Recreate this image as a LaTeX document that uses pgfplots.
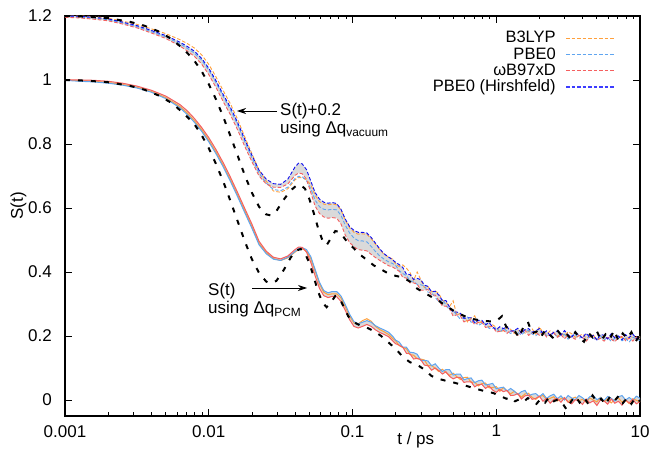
\documentclass[border=0pt]{standalone}
\usepackage{fontspec}
\setmainfont{Liberation Sans}
\usepackage{pgfplots}
\usepackage{pgfplotstable}
\pgfplotsset{compat=1.18}
\usepgfplotslibrary{fillbetween}
\usetikzlibrary{arrows.meta}

\definecolor{cOr}{RGB}{255,160,60}
\definecolor{cLb}{RGB}{95,165,240}
\definecolor{cRd}{RGB}{245,95,95}
\definecolor{cDb}{RGB}{10,10,240}
\definecolor{cDbL}{RGB}{60,60,255}
\definecolor{cBand}{RGB}{218,218,218}

% lower curves (S(t), PCM charges): L = log10(t/ps)
\pgfplotstableread{
L o b r
-3.00 1.000 0.999 1.000
-2.90 0.998 0.996 1.000
-2.80 0.996 0.994 0.999
-2.70 0.992 0.990 0.996
-2.60 0.986 0.984 0.990
-2.50 0.977 0.975 0.981
-2.40 0.964 0.962 0.968
-2.30 0.945 0.942 0.950
-2.20 0.917 0.913 0.923
-2.15 0.897 0.892 0.904
-2.10 0.873 0.868 0.880
-2.05 0.845 0.840 0.852
-2.00 0.812 0.807 0.820
-1.95 0.775 0.770 0.783
-1.90 0.734 0.729 0.742
-1.85 0.689 0.684 0.697
-1.80 0.641 0.636 0.649
-1.75 0.591 0.586 0.599
-1.70 0.542 0.537 0.550
-1.65 0.489 0.485 0.496
-1.60 0.460 0.457 0.465
-1.55 0.442 0.440 0.446
-1.50 0.436 0.436 0.441
-1.45 0.444 0.446 0.450
-1.40 0.462 0.464 0.470
-1.375 0.471 0.473 0.478
-1.35 0.473 0.476 0.477
-1.32 0.465 0.470 0.462
-1.29 0.442 0.448 0.430
-1.26 0.403 0.408 0.388
-1.23 0.363 0.368 0.349
-1.20 0.337 0.342 0.326
-1.17 0.329 0.335 0.320
-1.14 0.332 0.339 0.324
-1.11 0.332 0.339 0.323
-1.08 0.319 0.325 0.308
-1.05 0.291 0.298 0.280
-1.02 0.262 0.268 0.251
-0.99 0.241 0.245 0.230
-0.96 0.238 0.238 0.225
-0.93 0.248 0.243 0.230
-0.90 0.254 0.248 0.236
-0.87 0.246 0.243 0.230
-0.84 0.230 0.232 0.219
-0.81 0.220 0.225 0.211
-0.78 0.213 0.219 0.205
-0.75 0.205 0.212 0.198
-0.72 0.192 0.199 0.185
-0.700 0.185 0.187 0.176
-0.675 0.170 0.181 0.171
-0.650 0.164 0.165 0.165
-0.625 0.160 0.165 0.146
-0.600 0.142 0.149 0.144
-0.575 0.140 0.148 0.128
-0.550 0.129 0.143 0.130
-0.525 0.128 0.124 0.126
-0.500 0.125 0.124 0.109
-0.475 0.107 0.122 0.107
-0.450 0.108 0.107 0.093
-0.425 0.099 0.113 0.100
-0.400 0.089 0.100 0.092
-0.375 0.096 0.089 0.081
-0.350 0.086 0.095 0.088
-0.325 0.077 0.095 0.074
-0.300 0.084 0.078 0.066
-0.275 0.073 0.081 0.071
-0.250 0.064 0.081 0.070
-0.225 0.070 0.063 0.055
-0.200 0.071 0.067 0.057
-0.175 0.055 0.069 0.057
-0.150 0.056 0.054 0.041
-0.125 0.044 0.060 0.048
-0.100 0.051 0.062 0.049
-0.075 0.053 0.047 0.036
-0.050 0.038 0.049 0.044
-0.025 0.039 0.052 0.031
0.000 0.042 0.035 0.024
0.025 0.027 0.038 0.033
0.050 0.039 0.040 0.026
0.075 0.028 0.028 0.030
0.100 0.019 0.036 0.014
0.125 0.027 0.028 0.015
0.150 0.019 0.017 0.020
0.175 0.009 0.026 0.003
0.200 0.019 0.030 0.013
0.225 0.021 0.013 0.015
0.250 0.008 0.018 0.002
0.275 0.002 0.020 0.005
0.300 0.011 0.010 0.012
0.325 0.014 0.020 -0.004
0.350 0.002 0.005 0.005
0.375 0.005 0.013 -0.010
0.400 0.010 0.018 0.001
0.425 -0.003 0.004 0.005
0.450 0.004 0.013 -0.007
0.475 0.007 0.000 0.007
0.500 -0.007 0.014 -0.006
0.525 0.004 0.006 -0.012
0.550 0.009 0.001 0.001
0.575 -0.002 0.014 -0.003
0.600 0.002 0.007 -0.014
0.625 -0.007 -0.003 0.003
0.650 0.006 0.010 -0.009
0.675 0.000 0.014 -0.003
0.700 -0.006 0.001 -0.017
0.725 0.008 0.007 0.000
0.750 -0.005 -0.002 -0.003
0.775 0.003 0.011 -0.013
0.800 -0.009 0.005 0.003
0.825 0.001 -0.003 -0.010
0.850 0.006 0.010 -0.004
0.875 -0.007 0.014 -0.016
0.900 0.000 0.000 0.000
0.925 -0.011 0.008 -0.009
0.950 0.004 -0.001 0.002
0.975 -0.001 0.012 -0.012
1.000 -0.006 0.005 -0.005
}\lowtab

% upper curves (S(t)+0.2, vacuum charges)
\pgfplotstableread{
L h r b o
-3.00 1.200 1.196 1.198 1.200
-2.90 1.199 1.194 1.197 1.200
-2.80 1.196 1.190 1.194 1.198
-2.70 1.191 1.185 1.188 1.193
-2.60 1.181 1.175 1.178 1.184
-2.50 1.170 1.163 1.167 1.174
-2.40 1.155 1.147 1.151 1.160
-2.30 1.139 1.130 1.135 1.145
-2.20 1.118 1.106 1.113 1.126
-2.15 1.105 1.091 1.099 1.114
-2.10 1.090 1.074 1.084 1.100
-2.05 1.068 1.050 1.062 1.079
-2.00 1.037 1.017 1.031 1.049
-1.95 0.998 0.977 0.992 1.010
-1.90 0.955 0.933 0.949 0.967
-1.85 0.915 0.892 0.908 0.926
-1.80 0.868 0.845 0.861 0.878
-1.75 0.815 0.793 0.808 0.823
-1.70 0.765 0.745 0.757 0.770
-1.65 0.718 0.700 0.709 0.718
-1.60 0.690 0.675 0.678 0.684
-1.55 0.676 0.665 0.658 0.653
-1.50 0.674 0.664 0.654 0.649
-1.45 0.690 0.675 0.665 0.660
-1.40 0.728 0.702 0.692 0.688
-1.375 0.740 0.709 0.699 0.695
-1.35 0.738 0.707 0.698 0.695
-1.32 0.720 0.690 0.685 0.688
-1.29 0.684 0.648 0.660 0.672
-1.26 0.648 0.606 0.625 0.640
-1.23 0.628 0.583 0.604 0.620
-1.20 0.618 0.572 0.596 0.612
-1.17 0.615 0.568 0.594 0.610
-1.14 0.617 0.570 0.596 0.612
-1.11 0.614 0.568 0.594 0.610
-1.08 0.596 0.550 0.577 0.594
-1.05 0.565 0.515 0.546 0.562
-1.02 0.542 0.492 0.522 0.538
-0.99 0.530 0.479 0.506 0.524
-0.96 0.524 0.470 0.498 0.518
-0.93 0.524 0.468 0.497 0.519
-0.90 0.522 0.466 0.494 0.518
-0.87 0.508 0.455 0.480 0.504
-0.84 0.490 0.445 0.464 0.487
-0.81 0.472 0.436 0.450 0.470
-0.78 0.457 0.428 0.440 0.455
-0.75 0.447 0.420 0.432 0.447
-0.72 0.438 0.415 0.426 0.440
-0.700 0.430 0.410 0.421 0.424
-0.675 0.423 0.402 0.404 0.417
-0.650 0.414 0.383 0.395 0.422
-0.625 0.393 0.381 0.389 0.412
-0.600 0.392 0.366 0.372 0.398
-0.575 0.377 0.366 0.371 0.374
-0.550 0.380 0.362 0.361 0.400
-0.525 0.376 0.343 0.360 0.376
-0.500 0.359 0.343 0.357 0.351
-0.475 0.355 0.345 0.337 0.355
-0.450 0.338 0.327 0.335 0.338
-0.425 0.340 0.328 0.321 0.341
-0.400 0.328 0.311 0.307 0.333
-0.375 0.311 0.294 0.314 0.312
-0.350 0.311 0.293 0.297 0.306
-0.325 0.290 0.286 0.281 0.292
-0.300 0.275 0.262 0.281 0.310
-0.275 0.275 0.266 0.265 0.266
-0.250 0.271 0.263 0.253 0.270
-0.225 0.255 0.244 0.258 0.260
-0.200 0.257 0.248 0.259 0.244
-0.175 0.257 0.250 0.243 0.255
-0.150 0.242 0.236 0.245 0.263
-0.125 0.249 0.242 0.233 0.238
-0.100 0.249 0.243 0.239 0.246
-0.075 0.235 0.227 0.240 0.236
-0.050 0.242 0.228 0.224 0.228
-0.025 0.228 0.230 0.224 0.235
0.000 0.220 0.212 0.226 0.227
0.025 0.229 0.215 0.211 0.214
0.050 0.223 0.218 0.224 0.216
0.075 0.229 0.208 0.215 0.226
0.100 0.215 0.218 0.208 0.221
0.125 0.217 0.211 0.217 0.208
0.150 0.224 0.202 0.211 0.215
0.175 0.209 0.213 0.203 0.220
0.200 0.220 0.218 0.214 0.209
0.225 0.223 0.202 0.217 0.214
0.250 0.212 0.209 0.206 0.222
0.275 0.216 0.212 0.201 0.206
0.300 0.223 0.202 0.210 0.229
0.325 0.207 0.212 0.213 0.210
0.350 0.216 0.197 0.201 0.205
0.375 0.201 0.205 0.204 0.216
0.400 0.212 0.210 0.209 0.210
0.425 0.216 0.196 0.196 0.199
0.450 0.203 0.204 0.202 0.207
0.475 0.217 0.191 0.205 0.201
0.500 0.203 0.204 0.190 0.213
0.525 0.197 0.196 0.201 0.207
0.550 0.209 0.190 0.205 0.196
0.575 0.204 0.202 0.193 0.200
0.600 0.193 0.195 0.197 0.206
0.625 0.209 0.184 0.187 0.194
0.650 0.196 0.196 0.199 0.198
0.675 0.202 0.200 0.193 0.203
0.700 0.188 0.187 0.187 0.190
0.725 0.205 0.193 0.201 0.195
0.750 0.202 0.184 0.188 0.199
0.775 0.191 0.196 0.195 0.191
0.800 0.207 0.190 0.183 0.203
0.825 0.194 0.182 0.193 0.199
0.850 0.200 0.195 0.198 0.193
0.875 0.188 0.199 0.185 0.196
0.900 0.204 0.185 0.192 0.190
0.925 0.195 0.193 0.181 0.200
0.950 0.206 0.184 0.196 0.195
0.975 0.192 0.197 0.191 0.192
1.000 0.199 0.190 0.186 0.197
}\uptab

% experiment (black dashed): lower and shifted copy
\pgfplotstableread{
L lo up
-3.00 1.000 1.200
-2.85 0.998 1.198
-2.70 0.993 1.193
-2.55 0.982 1.182
-2.45 0.970 1.170
-2.35 0.952 1.152
-2.25 0.926 1.126
-2.15 0.885 1.085
-2.10 0.862 1.060
-2.05 0.828 1.028
-2.00 0.787 0.987
-1.95 0.738 0.940
-1.90 0.684 0.886
-1.85 0.623 0.826
-1.80 0.560 0.765
-1.75 0.497 0.703
-1.70 0.440 0.648
-1.65 0.397 0.604
-1.60 0.370 0.580
-1.57 0.365 0.577
-1.53 0.372 0.590
-1.48 0.405 0.625
-1.43 0.445 0.655
-1.39 0.467 0.670
-1.36 0.472 0.672
-1.33 0.458 0.660
-1.30 0.428 0.628
-1.27 0.385 0.585
-1.24 0.340 0.538
-1.21 0.305 0.500
-1.18 0.290 0.484
-1.15 0.305 0.505
-1.12 0.325 0.528
-1.09 0.318 0.525
-1.06 0.290 0.508
-1.03 0.262 0.490
-1.00 0.245 0.478
-0.95 0.234 0.455
-0.90 0.226 0.438
-0.85 0.215 0.420
-0.80 0.200 0.408
-0.75 0.180 0.395
-0.70 0.160 0.388
-0.65 0.135 0.383
-0.60 0.118 0.370
-0.55 0.110 0.348
-0.50 0.095 0.335
-0.45 0.075 0.322
-0.40 0.066 0.310
-0.35 0.060 0.294
-0.30 0.055 0.280
-0.25 0.049 0.268
-0.20 0.043 0.258
-0.15 0.036 0.252
-0.10 0.030 0.248
-0.05 0.024 0.246
-0.02 0.022 0.245
0.01 0.015 0.250
0.04 0.010 0.262
0.07 0.004 0.228
0.10 0.008 0.222
0.13 -0.004 0.214
0.16 0.002 0.195
0.19 -0.006 0.230
0.22 0.006 0.244
0.25 -0.002 0.208
0.28 -0.012 0.214
0.31 0.004 0.196
0.34 -0.008 0.218
0.37 0.010 0.205
0.40 -0.004 0.192
0.43 0.002 0.215
0.46 -0.010 0.198
0.49 -0.030 0.206
0.52 -0.005 0.190
0.55 0.012 0.212
0.58 -0.008 0.195
0.61 0.008 0.182
0.64 -0.012 0.210
0.67 0.014 0.196
0.70 -0.006 0.215
0.73 0.004 0.185
0.76 -0.015 0.205
0.79 0.010 0.190
0.82 -0.004 0.218
0.85 0.012 0.186
0.88 -0.010 0.208
0.91 0.006 0.192
0.94 -0.012 0.212
0.97 0.008 0.184
1.00 -0.004 0.200
}\exptab

\pgfplotsset{
  udash/.style={dash pattern=on 3.5pt off 2pt, line width=0.9pt},
  lsol/.style={solid, line width=1pt},
  expst/.style={black, line width=2pt, dash pattern=on 5pt off 8pt},
}

\begin{document}
\begin{tikzpicture}
\begin{axis}[
  scale only axis, width=575pt, height=400pt,
  xmode=log, xmin=0.001, xmax=10, ymin=-0.05, ymax=1.2,
  xtick={0.001,0.01,0.1,1,10}, xticklabels={0.001,0.01,0.1,1,10},
  minor xtick={0.002,0.003,0.004,0.005,0.006,0.007,0.008,0.009,0.02,0.03,0.04,0.05,0.06,0.07,0.08,0.09,0.2,0.3,0.4,0.5,0.6,0.7,0.8,0.9,2,3,4,5,6,7,8,9},
  ytick={0,0.2,0.4,0.6,0.8,1,1.2}, yticklabels={0,0.2,0.4,0.6,0.8,1,1.2},
  tick align=inside, major tick length=7pt, minor tick length=3.5pt,
  every tick/.style={black, line width=0.7pt},
  axis line style={line width=1.1pt},
  tick label style={font=\fontsize{17}{17}\selectfont, inner sep=0pt},
  xticklabel style={yshift=-9pt},
  yticklabel style={xshift=-13pt},
  label style={font=\fontsize{17}{17}\selectfont, inner sep=0pt},
  xlabel={t / ps}, ylabel={S(t)},
  xlabel style={at={(axis description cs:0.61,0)}, anchor=north, yshift=-16pt},
  ylabel style={at={(axis description cs:-0.0809,0.525)}, anchor=center},
  legend cell align=right, legend plot pos=right,
  legend image code/.code={\draw[#1] (0pt,0pt) -- (48pt,0pt);},
  legend style={draw=none, fill=none, at={(axis description cs:0.9565,0.963)}, anchor=north east,
    inner sep=0pt, font=\fontsize{16.5}{16.5}\selectfont, row sep=0.6pt,
    nodes={inner sep=0pt, text height=12pt, text depth=3.5pt},
    /tikz/every odd column/.style={column sep=10pt}},
]
\addlegendimage{color=cOr, dash pattern=on 3.5pt off 2pt, line width=1pt}\addlegendentry{B3LYP}
\addlegendimage{color=cLb, dash pattern=on 3.5pt off 2pt, line width=1pt}\addlegendentry{PBE0}
\addlegendimage{color=cRd, dash pattern=on 3.5pt off 2pt, line width=1pt}\addlegendentry{ωB97xD}
\addlegendimage{color=cDbL, dash pattern=on 3.5pt off 2pt, line width=1.1pt}\addlegendentry{PBE0 (Hirshfeld)}

% band boundaries
\addplot[draw=none, name path=LB, forget plot] table[x expr=10^(\thisrow{L}), y=b] {\lowtab};
\addplot[draw=none, name path=LR, forget plot] table[x expr=10^(\thisrow{L}), y=r] {\lowtab};
\addplot[draw=none, name path=UH, forget plot] table[x expr=10^(\thisrow{L}), y=h] {\uptab};
\addplot[draw=none, name path=UR, forget plot] table[x expr=10^(\thisrow{L}), y=r] {\uptab};
\addplot[cBand, forget plot] fill between[of=LB and LR];
\addplot[cBand, forget plot] fill between[of=UH and UR];

% lower (PCM) curves, solid
\addplot[cOr, lsol, forget plot] table[x expr=10^(\thisrow{L}), y=o] {\lowtab};
\addplot[cLb, lsol, forget plot] table[x expr=10^(\thisrow{L}), y=b] {\lowtab};
\addplot[cRd, lsol, forget plot] table[x expr=10^(\thisrow{L}), y=r] {\lowtab};

% upper (vacuum) curves, dashed
\addplot[cOr, udash, forget plot] table[x expr=10^(\thisrow{L}), y=o] {\uptab};
\addplot[cLb, udash, forget plot] table[x expr=10^(\thisrow{L}), y=b] {\uptab};
\addplot[cRd, udash, forget plot] table[x expr=10^(\thisrow{L}), y=r] {\uptab};
\addplot[cDb, udash, forget plot] table[x expr=10^(\thisrow{L}), y=h] {\uptab};

% experiment
\addplot[expst, forget plot] table[x expr=10^(\thisrow{L}), y=lo] {\exptab};
\addplot[expst, forget plot] table[x expr=10^(\thisrow{L}), y=up] {\exptab};

% annotations
\draw[-{Stealth[length=9pt,width=6pt]}, line width=0.9pt] (axis cs:0.02984,0.9031) -- (axis cs:0.01572,0.9031);
\node[anchor=base west, inner sep=0pt, font=\fontsize{17}{17}\selectfont] at (axis cs:0.03131,0.8875) {S(t)+0.2};
\node[anchor=base west, inner sep=0pt, font=\fontsize{17}{17}\selectfont] at (axis cs:0.03131,0.8313) {using Δq\textsubscript{vacuum}};
\draw[-{Stealth[length=9pt,width=6pt]}, line width=0.9pt] (axis cs:0.0200,0.35) -- (axis cs:0.04827,0.35);
\node[anchor=base west, inner sep=0pt, font=\fontsize{17}{17}\selectfont] at (axis cs:0.009881,0.328) {S(t)};
\node[anchor=base west, inner sep=0pt, font=\fontsize{17}{17}\selectfont] at (axis cs:0.009881,0.269) {using Δq\textsubscript{PCM}};
\end{axis}
\path ([xshift=-65pt,yshift=16pt]current axis.north west) rectangle ([xshift=11pt,yshift=-35pt]current axis.south east);
\end{tikzpicture}
\end{document}
